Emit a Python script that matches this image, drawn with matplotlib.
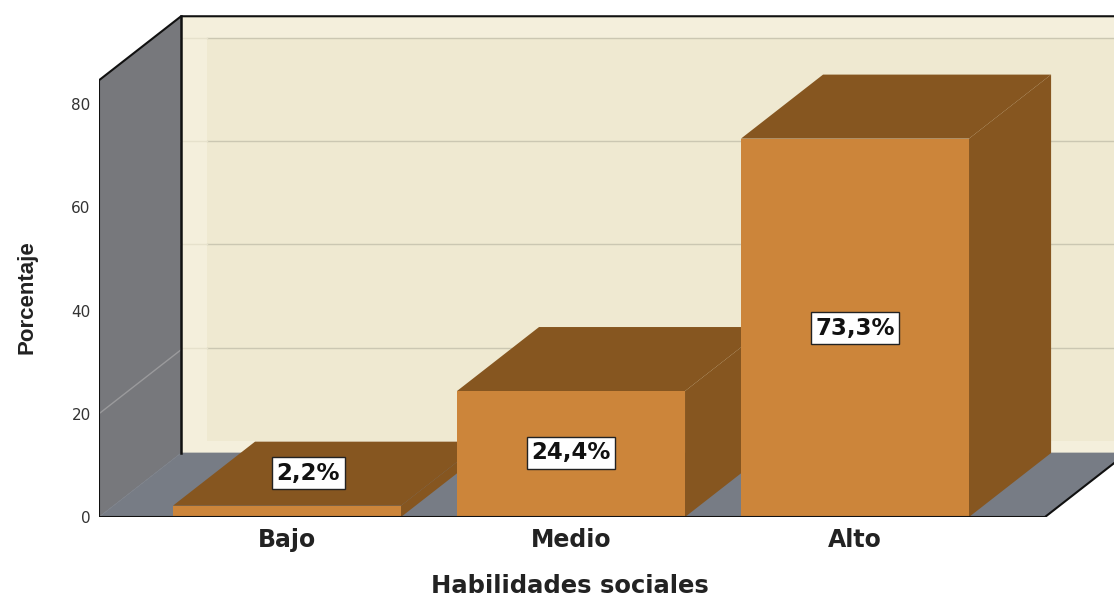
import matplotlib.pyplot as plt
from matplotlib.patches import Polygon

categorias = ['Bajo', 'Medio', 'Alto']
porcentajes = [2.2, 24.4, 73.3]
etiquetas = ['2,2%', '24,4%', '73,3%']
y_ticks = [0, 20, 40, 60, 80]

# profundidad del efecto 3D, en unidades de datos
dx = 0.289
dy = 12.4
ancho = 0.803
x_ini = -0.662
x_fin = 2.669
y_top = 84.6
margen = 0.09

c_frente = '#cc853a'
c_oscuro = '#865620'
c_fondo = '#efe9d1'
c_borde = '#f4efdc'
c_pared = '#77787c'
c_piso = '#777c85'
c_grid = '#cbc7b2'

fig = plt.figure(figsize=(11.14, 5.96), dpi=100)
ax = fig.add_axes([99 / 1114, 79 / 596, 1015 / 1114, 517 / 596])
ax.set_xlim(x_ini, 2.912)
ax.set_ylim(0, 100.15)

# pared del fondo, pared izquierda y piso
ax.add_patch(Polygon([(x_ini + dx, dy), (3.2, dy), (3.2, y_top + dy), (x_ini + dx, y_top + dy)],
                     fc=c_borde, ec='none', zorder=1))
ax.add_patch(Polygon([(x_ini + dx + margen, dy + 2.4), (3.2, dy + 2.4), (3.2, 80.4 + dy), (x_ini + dx + margen, 80.4 + dy)],
                     fc=c_fondo, ec='none', zorder=1))
ax.add_patch(Polygon([(x_ini, 0), (x_ini + dx, dy), (x_ini + dx, y_top + dy), (x_ini, y_top)],
                     fc=c_pared, ec='none', zorder=1))
ax.add_patch(Polygon([(x_ini, 0), (x_fin, 0), (x_fin + dx, dy), (x_ini + dx, dy)],
                     fc=c_piso, ec=c_piso, lw=0.5, zorder=1))

# lineas de division
for v in y_ticks[1:]:
    ax.plot([x_ini + dx + margen, 3.2], [v + dy + 0.4, v + dy + 0.4], color=c_grid, lw=1.0, zorder=2)
    ax.plot([x_ini + dx, x_ini + dx + margen], [v + dy + 0.4, v + dy + 0.4], color='#e6e1cc', lw=1.0, zorder=2)
ax.plot([x_ini, x_ini + dx], [20, 20 + dy], color='#9a9a9c', lw=1.0, zorder=2)

# barras
for i, v in enumerate(porcentajes):
    izq = i - ancho / 2
    der = i + ancho / 2
    ax.add_patch(Polygon([(izq, v), (der, v), (der + dx, v + dy), (izq + dx, v + dy)],
                         fc=c_oscuro, ec='none', zorder=3 + i))
    ax.add_patch(Polygon([(der, 0), (der + dx, dy), (der + dx, v + dy), (der, v)],
                         fc=c_oscuro, ec='none', zorder=3 + i))
    ax.bar(i, v, width=ancho, color=c_frente, edgecolor='none', zorder=3.5 + i)

# bordes negros
ax.plot([x_ini + dx, x_ini + dx], [dy, y_top + dy], color='#111111', lw=1.8, zorder=8)
ax.plot([x_ini, x_ini + dx, 3.2], [y_top, y_top + dy, y_top + dy], color='#111111', lw=1.5, zorder=8)
ax.plot([x_ini, x_ini, x_fin, x_fin + dx], [y_top, 0, 0, dy], color='#111111', lw=1.5, zorder=8)

# etiquetas de datos
pos_x = [0.075, 1, 2]
pos_y = [8.5, 12.4, 36.6]
for px, py, t in zip(pos_x, pos_y, etiquetas):
    ax.text(px, py, t, ha='center', va='center', fontsize=16.5, fontweight='bold', color='#111111',
            family='DejaVu Sans', zorder=9,
            bbox=dict(boxstyle='square,pad=0.2', fc='white', ec='#222222', lw=1))

ax.set_xticks(range(len(categorias)))
ax.set_xticklabels(categorias, fontsize=17, fontweight='bold', color='#222222', family='DejaVu Sans')
ax.set_yticks(y_ticks)
ax.set_yticklabels(y_ticks, fontsize=11, color='#333333', family='DejaVu Sans')
ax.tick_params(axis='both', length=0)
ax.tick_params(axis='x', pad=8)
ax.tick_params(axis='y', pad=6)
for s in ax.spines.values():
    s.set_visible(False)

fig.text(570 / 1114, 1 - 586 / 596, 'Habilidades sociales', ha='center', va='center',
         fontsize=17.5, fontweight='bold', color='#222222', family='DejaVu Sans')
fig.text(27 / 1114, 1 - 297 / 596, 'Porcentaje', ha='center', va='center', rotation=90,
         fontsize=16, fontweight='bold', color='#222222', family='Liberation Sans')

fig.savefig('out.png', dpi=100)
